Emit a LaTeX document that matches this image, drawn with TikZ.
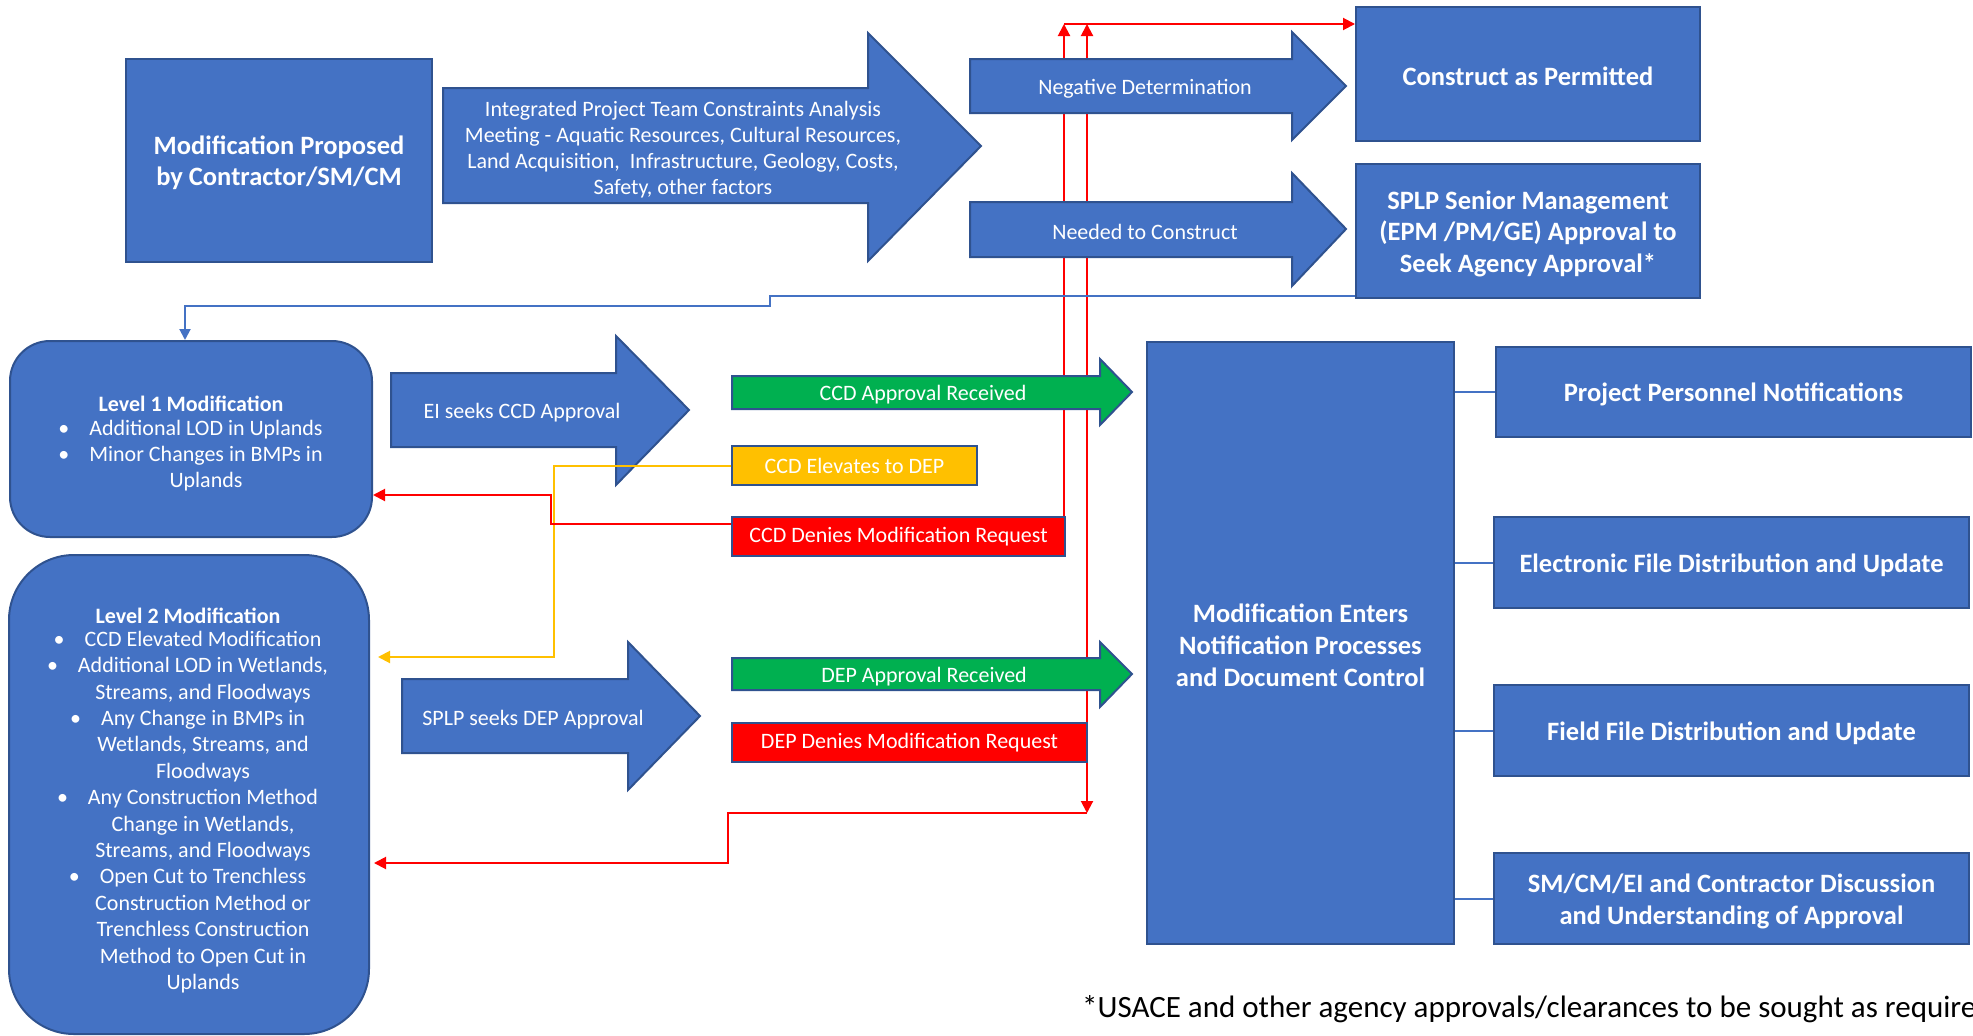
\documentclass[tikz,border=0pt]{standalone}
\usepackage{fontspec}
\setmainfont{Carlito}
\usetikzlibrary{arrows.meta}
\definecolor{blu}{HTML}{4472C4}
\definecolor{bdr}{HTML}{2F528F}
\definecolor{grn}{HTML}{00B050}
\definecolor{ylw}{HTML}{FFC000}
\definecolor{rd}{HTML}{FF0000}
\pgfdeclarelayer{bg}
\pgfsetlayers{bg,main}
\newcommand\bul{\llap{\textbullet\hspace{20pt}}}
\newcommand\blkarrow[8]{\draw[#1] (#2,#4) -- (#3,#4) -- (#3,#6) -- (#8) -- (#3,#7) -- (#3,#5) -- (#2,#5) -- cycle;}
\tikzset{
  bbox/.style={draw=bdr, fill=blu, line width=2pt, inner sep=0pt},
  btxt/.style={text=white, align=center, inner sep=0pt, yshift=-2.5pt,
    font=\bfseries\fontsize{26.5}{31.5}\selectfont},
  barr/.style={draw=bdr, fill=blu, line width=2pt},
  garr/.style={draw=bdr, fill=grn, line width=2pt},
  atxt/.style={text=white, align=center, inner sep=0pt, yshift=-2.5pt, font=\fontsize{22}{26}\selectfont},
  sbox/.style={draw=bdr, line width=2pt, text=white, inner sep=0pt, minimum height=39pt,
    font=\fontsize{22}{26}\selectfont},
  redln/.style={draw=rd, line width=2pt},
  redarr/.style={redln, -{Triangle[length=12pt,width=12pt]}},
  ylwarr/.style={draw=ylw, line width=2pt, -{Triangle[length=12pt,width=12pt]}},
  bluarr/.style={draw=blu, line width=2pt, -{Triangle[length=11pt,width=11pt]}},
  bluln/.style={draw=blu, line width=2pt},
}
\begin{document}
\begin{tikzpicture}[x=1pt,y=-1pt]
\useasboundingbox (0,0) rectangle (1973,1036);

% top row
\node[bbox, minimum width=306pt, minimum height=203pt] (mp) at (279,160.5) {};
\node[btxt] (mpt) at (mp) {Modification Proposed\\by Contractor/SM/CM};
\blkarrow{barr}{443}{868}{88}{203}{33}{261}{981,146}
\node[atxt] (ipt) at (683,147) {Integrated Project Team Constraints Analysis\\Meeting - Aquatic Resources, Cultural Resources,\\Land Acquisition,\ \ Infrastructure, Geology, Costs,\\Safety, other factors};

\blkarrow{barr}{970}{1292}{59}{113}{32}{140}{1346,86}
\node[atxt] (neg) at (1145,86) {Negative Determination};
\blkarrow{barr}{970}{1292}{202}{257}{173}{286}{1346,229}
\node[atxt] (need) at (1145,229) {Needed to Construct};

\node[bbox, minimum width=344pt, minimum height=134pt] (cap) at (1528,74) {};
\node[btxt] (capt) at (cap) {Construct as Permitted};
\node[bbox, minimum width=344pt, minimum height=134pt] (splp) at (1528,231) {};
\node[btxt] (splpt) at (splp) {SPLP Senior Management\\(EPM /PM/GE) Approval to\\Seek Agency Approval*};

% level boxes
\node[bbox, rounded corners=40pt, minimum width=362pt, minimum height=196pt] (lvl1) at (191,439) {};
\node[atxt, font=\bfseries\fontsize{22}{26}\selectfont] (lvl1t) at (191,401) {Level 1 Modification};
\node[atxt] (lvl1i) at (206,453) {\bul Additional LOD in Uplands\\\bul Minor Changes in BMPs in\\Uplands};

\node[bbox, rounded corners=65pt, minimum width=360pt, minimum height=479pt] (lvl2) at (189,794.5) {};
\node[atxt, font=\bfseries\fontsize{22}{26.4}\selectfont] (lvl2t) at (188,613) {Level 2 Modification};
\node[atxt, font=\fontsize{22}{26.4}\selectfont] (lvl2i) at (203,809.5) {\bul CCD Elevated Modification\\
\bul Additional LOD in Wetlands,\\Streams, and Floodways\\
\bul Any Change in BMPs in\\Wetlands, Streams, and\\Floodways\\
\bul Any Construction Method\\Change in Wetlands,\\Streams, and Floodways\\
\bul Open Cut to Trenchless\\Construction Method or\\Trenchless Construction\\Method to Open Cut in\\Uplands};

% middle arrows
\blkarrow{barr}{391}{616}{373}{447}{336}{485}{689,410}
\node[atxt] (ei) at (522,410) {EI seeks CCD Approval};
\blkarrow{garr}{732}{1100}{376}{409}{359}{425}{1132,392}
\node[atxt] (ccdok) at (923,392) {CCD Approval Received};
\node[sbox, fill=ylw, minimum width=245pt] (ccdel) at (854.5,465.5) {CCD Elevates to DEP};
\node[sbox, fill=rd, minimum width=333pt] (ccdden) at (898.5,536.5) {CCD Denies Modification Request};

\blkarrow{barr}{402}{628}{679}{753}{642}{790}{700,716}
\node[atxt] (splpa) at (533,717) {SPLP seeks DEP Approval};
\blkarrow{garr}{732}{1100}{658}{690}{642}{707}{1132,674}
\node[atxt] (depok) at (924,674) {DEP Approval Received};
\node[sbox, fill=rd, minimum width=355pt] (depden) at (909.5,742.5) {DEP Denies Modification Request};

% right side
\node[bbox, minimum width=307pt, minimum height=602pt] (mec) at (1300.5,643) {};
\node[btxt, font=\bfseries\fontsize{26.5}{32}\selectfont] (mect) at (mec) {Modification Enters\\Notification Processes\\and Document Control};
\node[bbox, minimum width=475pt, minimum height=90pt] (pp) at (1733.5,392) {};
\node[btxt] (ppt) at (pp) {Project Personnel Notifications};
\node[bbox, minimum width=475pt, minimum height=91pt] (ef) at (1731.5,562.5) {};
\node[btxt] (eft) at (ef) {Electronic File Distribution and Update};
\node[bbox, minimum width=475pt, minimum height=91pt] (ff) at (1731.5,730.5) {};
\node[btxt] (fft) at (ff) {Field File Distribution and Update};
\node[bbox, minimum width=475pt, minimum height=91pt] (sm) at (1731.5,898.5) {};
\node[btxt, font=\bfseries\fontsize{26.5}{32}\selectfont] (smt) at (sm) {SM/CM/EI and Contractor Discussion\\and Understanding of Approval};

\draw[bluln] (mec.east |- pp.west) -- (pp.west);
\draw[bluln] (mec.east |- ef.west) -- (ef.west);
\draw[bluln] (mec.east |- ff.west) -- (ff.west);
\draw[bluln] (mec.east |- sm.west) -- (sm.west);

% footnote
\node[anchor=base west, inner sep=0pt, font=\fontsize{31}{33}\selectfont] (fn) at (1082,1017) {*USACE and other agency approvals/clearances to be sought as required};

% connectors on main layer
\coordinate (b1) at (770,296);
\coordinate (b2) at (185,306);
\draw[bluarr] (splp.west |- b1) -- (b1) -- (b1 |- b2) -- (b2) -- (b2 |- lvl1.north);

\coordinate (y1) at (554,466);
\coordinate (y2) at (554,657);
\draw[ylwarr] (ccdel.west |- y1) -- (y1) -- (y2) -- ([xshift=8pt]lvl2.east |- y2);

\coordinate (r1) at (551,524);
\coordinate (r2) at (551,495);
\draw[redarr] (ccdden.west |- r1) -- (r1) -- (r2) -- (lvl1.east |- r2);

% red lines behind arrows
\begin{pgfonlayer}{bg}
\coordinate (t1) at (1064,24);
\coordinate (t2) at (1087,24);
\draw[redarr] (ccdden.north east -| t1) -- (t1);
\draw[redarr] (t1) -- (cap.west |- t1);
\draw[redarr] (depden.north east -| t2) -- (t2);
\coordinate (d1) at (1087,813);
\coordinate (d2) at (728,813);
\coordinate (d3) at (728,863);
\draw[redarr] (depden.south east -| d1) -- (d1);
\draw[redarr] (d1) -- (d2) -- (d3) -- ([xshift=4pt]lvl2.east |- d3);
\end{pgfonlayer}
\end{tikzpicture}
\end{document}
